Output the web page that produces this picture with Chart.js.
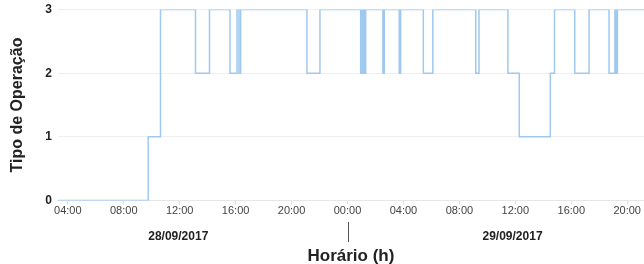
<!DOCTYPE html>
<html lang="pt">
  <head>
    <meta charset="UTF-8" />
    <title>Tipo de Operação</title>
    <script src="https://cdn.jsdelivr.net/npm/chart.js"></script>
    <style>
      body { margin: 0; background: #fff; }
      #wrap { width: 644px; height: 264px; position: relative; }
    </style>
  </head>
  <body>
    <div id="wrap"><canvas id="myChart"></canvas></div>
    <script>
      // hours counted from 28/09/2017 00:00
      const times = [3.29, 9.75, 10.63, 13.13, 14.13, 15.6, 16.1, 16.24, 16.36, 21.1, 22.03,
        24.94, 25.0, 25.06, 25.13, 25.2, 25.3, 26.53, 26.63, 27.7, 27.8,
        29.42, 30.1, 33.17, 33.4, 35.47, 36.28, 38.5, 38.8, 40.25, 41.27,
        42.7, 43.12, 43.22, 43.3, 45.2];
      const values = [0, 1, 3, 2, 3, 2, 3, 2, 3, 2, 3,
        2, 3, 2, 3, 2, 3, 2, 3, 2, 3,
        2, 3, 2, 3, 2, 1, 2, 3, 2, 3,
        2, 3, 2, 3, 3];
      const xTicks = [4, 8, 12, 16, 20, 24, 28, 32, 36, 40, 44];
      const yTicks = [0, 1, 2, 3];
      const dayLabels = ["28/09/2017", "29/09/2017"];
      const dayCenters = [11.9, 35.8];
      const dayBreak = 24;

      const points = times.map((t, i) => ({ x: t, y: values[i] }));

      const dayPlugin = {
        id: "days",
        afterDraw(chart) {
          const c = chart.ctx;
          const xs = chart.scales.x;
          c.save();
          c.strokeStyle = "#555";
          c.lineWidth = 1;
          const bx = Math.round(xs.getPixelForValue(dayBreak)) + 0.5;
          c.beginPath();
          c.moveTo(bx, 222);
          c.lineTo(bx, 242);
          c.stroke();
          c.fillStyle = "#222";
          c.font = "bold 12px 'Liberation Sans', Arial, sans-serif";
          c.textAlign = "center";
          c.textBaseline = "middle";
          dayLabels.forEach((d, i) => {
            c.fillText(d, xs.getPixelForValue(dayCenters[i]), 237);
          });
          c.restore();
        }
      };

      new Chart(document.getElementById("myChart"), {
        type: "line",
        data: {
          datasets: [{
            data: points,
            stepped: "before",
            borderColor: "#9fc9ee",
            borderWidth: 1.5,
            pointRadius: 0,
            fill: false
          }]
        },
        options: {
          responsive: true,
          maintainAspectRatio: false,
          animation: false,
          layout: { padding: { top: 5, right: 0, left: 8, bottom: 0 } },
          plugins: { legend: { display: false }, tooltip: { enabled: false } },
          scales: {
            x: {
              type: "linear",
              min: times[0],
              max: times[times.length - 1],
              afterBuildTicks: (axis) => { axis.ticks = xTicks.map(v => ({ value: v })); },
              grid: { drawOnChartArea: false, drawTicks: true, tickLength: 4, color: "#ddd" },
              border: { color: "#e6e6e6" },
              ticks: {
                color: "#444",
                maxRotation: 0,
                padding: 0,
                font: { family: "'Liberation Sans', Arial, sans-serif", size: 11 },
                callback: (v) => String(v % 24).padStart(2, "0") + ":00"
              },
              title: {
                display: true,
                text: "Horário (h)",
                color: "#222",
                padding: { top: 29, bottom: -3 },
                font: { family: "'Liberation Sans', Arial, sans-serif", size: 17, weight: "bold" }
              }
            },
            y: {
              min: 0,
              max: 3,
              afterBuildTicks: (axis) => { axis.ticks = yTicks.map(v => ({ value: v })); },
              grid: { color: "#efefef", drawTicks: false },
              border: { display: false },
              ticks: {
                color: "#222",
                padding: 6,
                font: { family: "'Liberation Sans', Arial, sans-serif", size: 12, weight: "bold", lineHeight: 0.6 }
              },
              title: {
                display: true,
                text: "Tipo de Operação",
                color: "#222",
                padding: { top: 0, bottom: 12 },
                font: { family: "'Liberation Sans', Arial, sans-serif", size: 16, weight: "bold" }
              }
            }
          }
        },
        plugins: [dayPlugin]
      });
    </script>
  </body>
</html>
